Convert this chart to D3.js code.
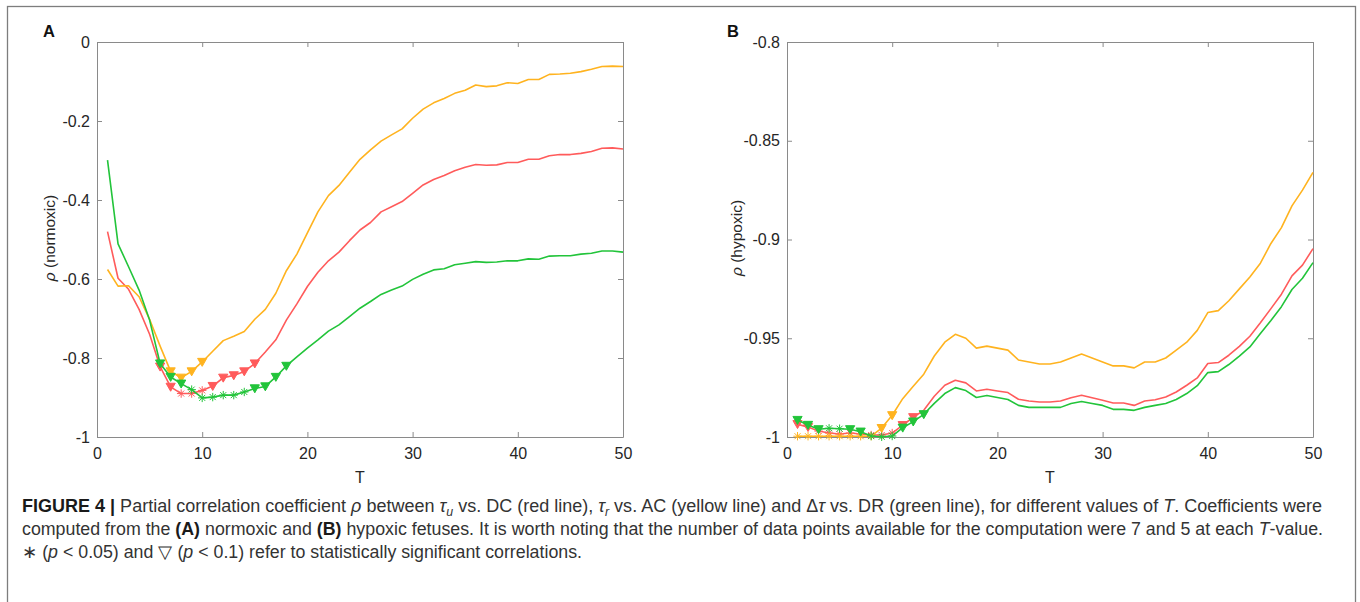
<!DOCTYPE html>
<html>
<head>
<meta charset="utf-8">
<script src="https://cdn.jsdelivr.net/npm/d3@7"></script>
<style>
  body { margin: 0; background: #fff; }
  text { font-family: "Liberation Sans", Arial, sans-serif; }
  .caption text { font-family: "Liberation Sans Narrow", "Liberation Sans", sans-serif; }
</style>
</head>
<body>
<svg id="fig" width="1360" height="602"></svg>
<script>
// ####################################################################################
// Data, T = 1..50
const T = d3.range(1, 51)

const aYellow = [-0.576,-0.618,-0.617,-0.645,-0.702,-0.770,-0.834,-0.850,-0.834,-0.810,
                 -0.783,-0.756,-0.745,-0.733,-0.702,-0.677,-0.636,-0.579,-0.537,-0.483,
                 -0.430,-0.389,-0.363,-0.330,-0.297,-0.273,-0.251,-0.235,-0.220,-0.193,
                 -0.170,-0.154,-0.143,-0.130,-0.122,-0.109,-0.113,-0.111,-0.103,-0.105,
                 -0.095,-0.095,-0.082,-0.081,-0.079,-0.075,-0.069,-0.062,-0.061,-0.062]
const aRed    = [-0.480,-0.598,-0.626,-0.677,-0.740,-0.822,-0.873,-0.890,-0.890,-0.882,
                 -0.871,-0.850,-0.844,-0.834,-0.814,-0.785,-0.754,-0.704,-0.663,-0.619,
                 -0.583,-0.554,-0.532,-0.503,-0.476,-0.457,-0.430,-0.417,-0.404,-0.383,
                 -0.362,-0.348,-0.338,-0.326,-0.317,-0.310,-0.312,-0.311,-0.305,-0.305,
                 -0.297,-0.297,-0.288,-0.285,-0.285,-0.282,-0.277,-0.269,-0.268,-0.271]
const aGreen  = [-0.299,-0.511,-0.569,-0.628,-0.704,-0.814,-0.848,-0.865,-0.880,-0.901,
                 -0.899,-0.894,-0.894,-0.886,-0.877,-0.872,-0.848,-0.820,-0.797,-0.775,
                 -0.754,-0.732,-0.716,-0.695,-0.674,-0.657,-0.639,-0.628,-0.618,-0.601,
                 -0.588,-0.577,-0.574,-0.564,-0.560,-0.556,-0.558,-0.557,-0.554,-0.554,
                 -0.549,-0.550,-0.542,-0.541,-0.541,-0.537,-0.535,-0.529,-0.529,-0.532]

const bYellow = [-0.9996,-0.9996,-0.9996,-0.9996,-0.9996,-0.9996,-0.9996,-0.9996,-0.9955,-0.9890,
                 -0.9806,-0.9743,-0.9682,-0.9590,-0.9520,-0.9480,-0.9500,-0.9550,-0.9540,-0.9550,
                 -0.9560,-0.9610,-0.9620,-0.9630,-0.9630,-0.9620,-0.9600,-0.9580,-0.9600,-0.9620,
                 -0.9640,-0.9640,-0.9650,-0.9620,-0.9620,-0.9600,-0.9560,-0.9520,-0.9460,-0.9370,
                 -0.9360,-0.9310,-0.9250,-0.9190,-0.9120,-0.9020,-0.8940,-0.8830,-0.8750,-0.8660]
const bRed    = [-0.9935,-0.9950,-0.9970,-0.9980,-0.9985,-0.9980,-0.9985,-0.9990,-0.9990,-0.9980,
                 -0.9940,-0.9900,-0.9865,-0.9794,-0.9738,-0.9713,-0.9726,-0.9767,-0.9758,-0.9767,
                 -0.9775,-0.9809,-0.9818,-0.9823,-0.9823,-0.9818,-0.9801,-0.9789,-0.9801,-0.9814,
                 -0.9828,-0.9828,-0.9840,-0.9818,-0.9811,-0.9797,-0.9772,-0.9738,-0.9701,-0.9628,
                 -0.9623,-0.9586,-0.9541,-0.9490,-0.9422,-0.9350,-0.9277,-0.9184,-0.9130,-0.9046]
const bGreen  = [-0.9914,-0.9939,-0.9961,-0.9956,-0.9958,-0.9961,-0.9973,-0.9995,-0.9999,-0.9995,
                 -0.9953,-0.9922,-0.9885,-0.9830,-0.9780,-0.9750,-0.9765,-0.9800,-0.9790,-0.9800,
                 -0.9810,-0.9840,-0.9850,-0.9850,-0.9850,-0.9850,-0.9830,-0.9820,-0.9830,-0.9840,
                 -0.9860,-0.9860,-0.9865,-0.9850,-0.9840,-0.9830,-0.9810,-0.9780,-0.9740,-0.9674,
                 -0.9669,-0.9633,-0.9590,-0.9544,-0.9476,-0.9410,-0.9340,-0.9253,-0.9196,-0.9117]

// significance: tri = p < 0.1 (triangle), ast = p < 0.05 (asterisk); values are T
const aYellowTri = [7, 8, 9, 10],                    aYellowAst = []
const aRedTri    = [6, 7, 11, 12, 13, 14, 15],       aRedAst    = [8, 9, 10]
const aGreenTri  = [6, 7, 8, 15, 16, 17, 18],        aGreenAst  = [9, 10, 11, 12, 13, 14]
const bYellowTri = [9, 10],                          bYellowAst = [1, 2, 3, 4, 5, 6, 7, 8]
const bRedTri    = [1, 2, 11, 12],                   bRedAst    = [3, 4, 5, 6, 7, 8, 9, 10]
const bGreenTri  = [1, 2, 3, 6, 7, 11, 12, 13],      bGreenAst  = [4, 5, 8, 9, 10]

const xTicks  = [0, 10, 20, 30, 40, 50]
const aYTicks = [-1, -0.8, -0.6, -0.4, -0.2, 0]
const bYTicks = [-1, -0.95, -0.9, -0.85, -0.8]

const colors = { red: "#ff5b5b", yellow: "#ffb31f", green: "#22c43a" }

// ####################################################################################
const svg = d3.select("#fig")

svg.append("rect")
  .attr("x", 7.5).attr("y", 6.5)
  .attr("width", 1348).attr("height", 640)
  .attr("fill", "none").attr("stroke", "#7d7d7d").attr("stroke-width", 1.3)

const triPath = "M-4.6,-3.6L4.6,-3.6L0,4.4Z"
const astPath = "M-4.2,0L4.2,0M0,-4.2L0,4.2M-3,-3L3,3M-3,3L3,-3"

function draw_panel(cfg) {
  const g = svg.append("g")

  var xScale = d3.scaleLinear().domain([0, 50]).range([cfg.x0, cfg.x1])
  var yScale = d3.scaleLinear().domain(cfg.yDomain).range([437, 42])

  // axes, ticks pointing inward on all four sides (box)
  const axes = [
    [d3.axisBottom(xScale).tickValues(xTicks).tickFormat(String).tickPadding(11), `translate(0,437)`],
    [d3.axisTop(xScale).tickValues(xTicks).tickFormat(""), `translate(0,42)`],
    [d3.axisLeft(yScale).tickValues(cfg.yTicks).tickFormat(String).tickPadding(7), `translate(${cfg.x0},0)`],
    [d3.axisRight(yScale).tickValues(cfg.yTicks).tickFormat(""), `translate(${cfg.x1},0)`]
  ]
  axes.forEach(([ax, tr]) => {
    const a = g.append("g")
      .attr("transform", tr)
      .call(ax.tickSizeInner(-5).tickSizeOuter(0))
    a.select(".domain").attr("stroke", "#8a8a8a")
    a.selectAll(".tick line").attr("stroke", "#8a8a8a")
    a.selectAll("text")
      .style("font-size", "16px")
      .style("font-family", '"Liberation Sans", Arial, sans-serif')
      .attr("fill", "#262626")
  })

  // lines: red, yellow, green (green on top)
  cfg.series.forEach(s => {
    const pts = T.map((t, i) => ({ t: t, v: s.values[i] }))
    g.append("path")
      .datum(pts)
      .attr("fill", "none")
      .attr("stroke", colors[s.name])
      .attr("stroke-width", 1.6)
      .attr("stroke-linejoin", "round")
      .attr("d", d3.line().x(d => xScale(d.t)).y(d => yScale(d.v)))

    g.selectAll(null)
      .data(s.ast)
      .join("path")
        .attr("transform", t => `translate(${xScale(t)},${yScale(s.values[t - 1])})`)
        .attr("d", astPath)
        .attr("fill", "none")
        .attr("stroke", colors[s.name])
        .attr("stroke-width", 1)

    g.selectAll(null)
      .data(s.tri)
      .join("path")
        .attr("transform", t => `translate(${xScale(t)},${yScale(s.values[t - 1])})`)
        .attr("d", triPath)
        .attr("fill", colors[s.name])
        .attr("stroke", colors[s.name])
        .attr("stroke-width", 1)
  })

  // labels
  g.append("text")
    .attr("x", (cfg.x0 + cfg.x1) / 2).attr("y", 483)
    .attr("text-anchor", "middle")
    .style("font-size", "16px").attr("fill", "#262626")
    .text("T")

  const yl = g.append("text")
    .attr("transform", `translate(${cfg.yLabX},238) rotate(-90)`)
    .attr("text-anchor", "middle")
    .style("font-size", "15.5px").attr("fill", "#262626")
  yl.append("tspan").style("font-style", "italic").text("ρ")
  yl.append("tspan").text(` (${cfg.yName})`)

  g.append("text")
    .attr("x", cfg.letterX).attr("y", 37)
    .style("font-size", "16.5px").style("font-weight", "bold").attr("fill", "#111")
    .text(cfg.letter)
}

draw_panel({
  letter: "A", letterX: 43, x0: 97, x1: 623, yLabX: 55, yName: "normoxic",
  yDomain: [-1, 0], yTicks: aYTicks,
  series: [
    { name: "red", values: aRed, tri: aRedTri, ast: aRedAst },
    { name: "yellow", values: aYellow, tri: aYellowTri, ast: aYellowAst },
    { name: "green", values: aGreen, tri: aGreenTri, ast: aGreenAst }
  ]
})

draw_panel({
  letter: "B", letterX: 727, x0: 787, x1: 1313, yLabX: 742, yName: "hypoxic",
  yDomain: [-1, -0.8], yTicks: bYTicks,
  series: [
    { name: "red", values: bRed, tri: bRedTri, ast: bRedAst },
    { name: "yellow", values: bYellow, tri: bYellowTri, ast: bYellowAst },
    { name: "green", values: bGreen, tri: bGreenTri, ast: bGreenAst }
  ]
})

// ###########################################
// Caption
const captionLines = [
  { y: 512, len: 1300, parts: [
    ["FIGURE 4 |", "b"], [" Partial correlation coefficient "], ["ρ", "i"], [" between "],
    ["τ", "i"], ["u", "sub"], [" vs. DC (red line), "], ["τ", "i"], ["r", "sub"],
    [" vs. AC (yellow line) and Δ"], ["τ", "i"], [" vs. DR (green line), for different values of "],
    ["T", "i"], [". Coefficients were"]
  ]},
  { y: 535, len: 1301, parts: [
    ["computed from the "], ["(A)", "b"], [" normoxic and "], ["(B)", "b"],
    [" hypoxic fetuses. It is worth noting that the number of data points available for the computation were 7 and 5 at each "],
    ["T", "i"], ["-value."]
  ]},
  { y: 558, len: 560, parts: [
    ["∗ ("], ["p", "i"], [" < 0.05) and ▽ ("], ["p", "i"], [" < 0.1) refer to statistically significant correlations."]
  ]}
]

const cap = svg.append("g").attr("class", "caption")
captionLines.forEach(line => {
  const tx = cap.append("text")
    .attr("x", 22).attr("y", line.y)
    .style("font-size", "17.5px")
    .attr("fill", "#333")
  let shifted = false
  line.parts.forEach(([str, kind]) => {
    const ts = tx.append("tspan").text(str)
    if (kind === "b") ts.style("font-weight", "bold").attr("fill", "#1a1a1a")
    if (kind === "i") ts.style("font-style", "italic")
    if (kind === "sub") {
      ts.style("font-style", "italic").style("font-size", "12px").attr("dy", 4)
      shifted = true
    } else if (shifted) {
      ts.attr("dy", -4)
      shifted = false
    }
  })
  tx.attr("textLength", line.len).attr("lengthAdjust", "spacingAndGlyphs")
})
</script>
</body>
</html>
